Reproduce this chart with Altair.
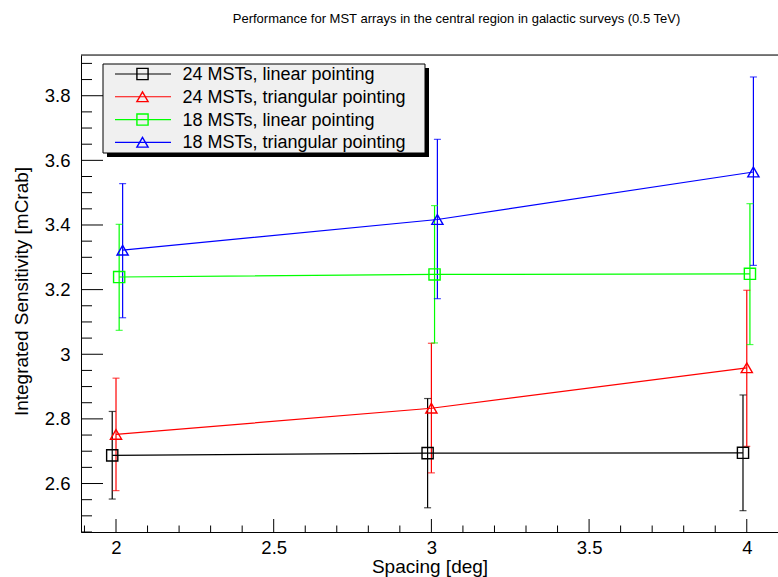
import altair as alt
import pandas as pd

# ---- series definitions ----
series_names = [
    "24 MSTs, linear pointing",
    "24 MSTs, triangular pointing",
    "18 MSTs, linear pointing",
    "18 MSTs, triangular pointing",
]
series_colors = ["#000000", "#ff0000", "#00ff00", "#0000ff"]
series_shapes = ["square", "triangle-up", "square", "triangle-up"]

# spacing [deg]; each series is shifted a little so the error bars stay apart
spacing_24_lin = [1.988, 2.988, 3.988]
spacing_24_tri = [2.000, 3.000, 4.000]
spacing_18_lin = [2.010, 3.010, 4.010]
spacing_18_tri = [2.021, 3.019, 4.021]

# integrated sensitivity [mCrab] with lower / upper error limits
sens_24_lin = [2.687, 2.694, 2.695]
low_24_lin = [2.552, 2.525, 2.516]
high_24_lin = [2.823, 2.863, 2.874]

sens_24_tri = [2.752, 2.833, 2.958]
low_24_tri = [2.578, 2.633, 2.715]
high_24_tri = [2.926, 3.034, 3.198]

sens_18_lin = [3.239, 3.247, 3.249]
low_18_lin = [3.074, 3.035, 3.030]
high_18_lin = [3.402, 3.460, 3.466]

sens_18_tri = [3.322, 3.417, 3.564]
low_18_tri = [3.113, 3.172, 3.275]
high_18_tri = [3.528, 3.665, 3.858]

# axis ticks
x_major = [2.0, 2.5, 3.0, 3.5, 4.0]
x_minor = [1.9, 2.1, 2.2, 2.3, 2.4, 2.6, 2.7, 2.8, 2.9,
           3.1, 3.2, 3.3, 3.4, 3.6, 3.7, 3.8, 3.9]
y_major = [2.6, 2.8, 3.0, 3.2, 3.4, 3.6, 3.8]
y_minor = [2.45, 2.5, 2.55, 2.65, 2.7, 2.75, 2.85, 2.9, 2.95,
           3.05, 3.1, 3.15, 3.25, 3.3, 3.35, 3.45, 3.5, 3.55,
           3.65, 3.7, 3.75, 3.85, 3.9]

x_domain = [1.889, 4.099]
y_domain = [2.450, 3.926]

# ---- tables ----
rows = []
blocks = [
    (spacing_24_lin, sens_24_lin, low_24_lin, high_24_lin),
    (spacing_24_tri, sens_24_tri, low_24_tri, high_24_tri),
    (spacing_18_lin, sens_18_lin, low_18_lin, high_18_lin),
    (spacing_18_tri, sens_18_tri, low_18_tri, high_18_tri),
]
for name, (xs, ys, lo, hi) in zip(series_names, blocks):
    for a, b, c, d in zip(xs, ys, lo, hi):
        rows.append({"series": name, "spacing": a, "sens": b, "lo": c, "hi": d})
df = pd.DataFrame(rows)
legend_df = pd.DataFrame({"series": series_names})
one_row = pd.DataFrame({"k": [0]})

W, H = 697, 477
FONT = "Liberation Sans"

x_scale = alt.Scale(domain=x_domain, nice=False, zero=False)
y_scale = alt.Scale(domain=y_domain, nice=False, zero=False)
color_scale = alt.Scale(domain=series_names, range=series_colors)
shape_scale = alt.Scale(domain=series_names, range=series_shapes)

x_axis = alt.Axis(
    values=x_major, format="~g", ticks=False, tickSize=0, grid=False,
    domain=True, domainColor="black", domainWidth=1,
    labelFontSize=18.5, labelColor="black", labelFont=FONT,
    labelBaseline="alphabetic", labelPadding=21, labelFlush=False,
    title="Spacing [deg]", titleFontSize=19, titleFont=FONT,
    titleFontWeight="normal", titleColor="black",
    titleX=W / 2, titleY=40.5, titleBaseline="alphabetic",
)
y_axis = alt.Axis(
    values=y_major, format="~g", ticks=False, tickSize=0, grid=False,
    domain=True, domainColor="black", domainWidth=1,
    labelFontSize=18.5, labelColor="black", labelFont=FONT,
    labelBaseline="middle", labelPadding=11, labelFlush=False,
    title="Integrated Sensitivity [mCrab]", titleFontSize=19, titleFont=FONT,
    titleFontWeight="normal", titleColor="black",
    titleX=-54, titleY=236, titleBaseline="alphabetic", titleAngle=-90,
)

X = lambda f: alt.X(f, type="quantitative", scale=x_scale, axis=x_axis)
Y = lambda f: alt.Y(f, type="quantitative", scale=y_scale, axis=y_axis)
C = alt.Color("series:N", scale=color_scale, legend=None)
S = alt.Shape("series:N", scale=shape_scale, legend=None)

# frame top edge
frame_top = alt.Chart(one_row).mark_rule(color="black", strokeWidth=1).encode(
    x=alt.value(0), x2=alt.value(W), y=alt.value(0)
)

# inward tick marks
def x_ticks(vals, length):
    return alt.Chart(pd.DataFrame({"v": vals})).mark_rule(
        color="black", strokeWidth=1
    ).encode(x=X("v"), y=alt.value(H), y2=alt.value(H - length))

def y_ticks(vals, length):
    return alt.Chart(pd.DataFrame({"v": vals})).mark_rule(
        color="black", strokeWidth=1
    ).encode(y=Y("v"), x=alt.value(0), x2=alt.value(length))

base = alt.Chart(df)
err_bars = base.mark_rule(strokeWidth=1.2).encode(
    x=X("spacing"), y=Y("lo"), y2="hi", color=C
)
cap_hi = base.mark_tick(orient="horizontal", size=7, thickness=1.2).encode(
    x=X("spacing"), y=Y("hi"), color=C
)
cap_lo = base.mark_tick(orient="horizontal", size=7, thickness=1.2).encode(
    x=X("spacing"), y=Y("lo"), color=C
)
lines = base.mark_line(strokeWidth=1.2).encode(
    x=X("spacing"), y=Y("sens"), color=C, order="spacing:Q"
)
points = base.mark_point(filled=False, size=125, strokeWidth=1.4, opacity=1).encode(
    x=X("spacing"), y=Y("sens"), color=C, shape=S
)

plot = alt.layer(
    x_ticks(x_minor, 6.5), x_ticks(x_major, 13),
    y_ticks(y_minor, 11), y_ticks(y_major, 22),
    frame_top, err_bars, cap_hi, cap_lo, lines, points,
)

# legend box with shadow
row_y = alt.Y("series:N", scale=alt.Scale(type="point", domain=series_names,
                                          range=[19, 87.3], padding=0), axis=None)
shadow = alt.Chart(one_row).mark_rect(color="black").encode(
    x=alt.value(26), x2=alt.value(348), y=alt.value(13), y2=alt.value(102)
)
box = alt.Chart(one_row).mark_rect(fill="#f0f0f0", stroke="black", strokeWidth=1).encode(
    x=alt.value(22), x2=alt.value(344), y=alt.value(9), y2=alt.value(98)
)
leg_lines = alt.Chart(legend_df).mark_rule(strokeWidth=1.2).encode(
    x=alt.value(34), x2=alt.value(90), y=row_y, color=C
)
leg_marks = alt.Chart(legend_df).mark_point(filled=False, size=125, strokeWidth=1.4, opacity=1).encode(
    x=alt.value(61.5), y=row_y, color=C, shape=S
)
leg_text = alt.Chart(legend_df).mark_text(
    align="left", baseline="middle", fontSize=18, font=FONT, color="black", dy=1
).encode(x=alt.value(101.5), y=row_y, text="series:N")

legend = alt.layer(shadow, box, leg_lines, leg_marks, leg_text)

chart = alt.layer(plot, legend).resolve_scale(y="independent").properties(
    width=W,
    height=H,
    autosize=alt.AutoSizeParams(type="none"),
    padding={"left": 81, "top": 55, "right": 0, "bottom": 45},
    title=alt.TitleParams(
        "Performance for MST arrays in the central region in galactic surveys (0.5 TeV)",
        fontSize=13, font=FONT, fontWeight="normal", color="black",
        anchor="middle", frame="group", baseline="alphabetic", offset=19, dx=27,
    ),
).configure_view(stroke=None).configure(font=FONT, background="white")

chart.save("out.html", embed_options={"renderer": "svg", "actions": False})
